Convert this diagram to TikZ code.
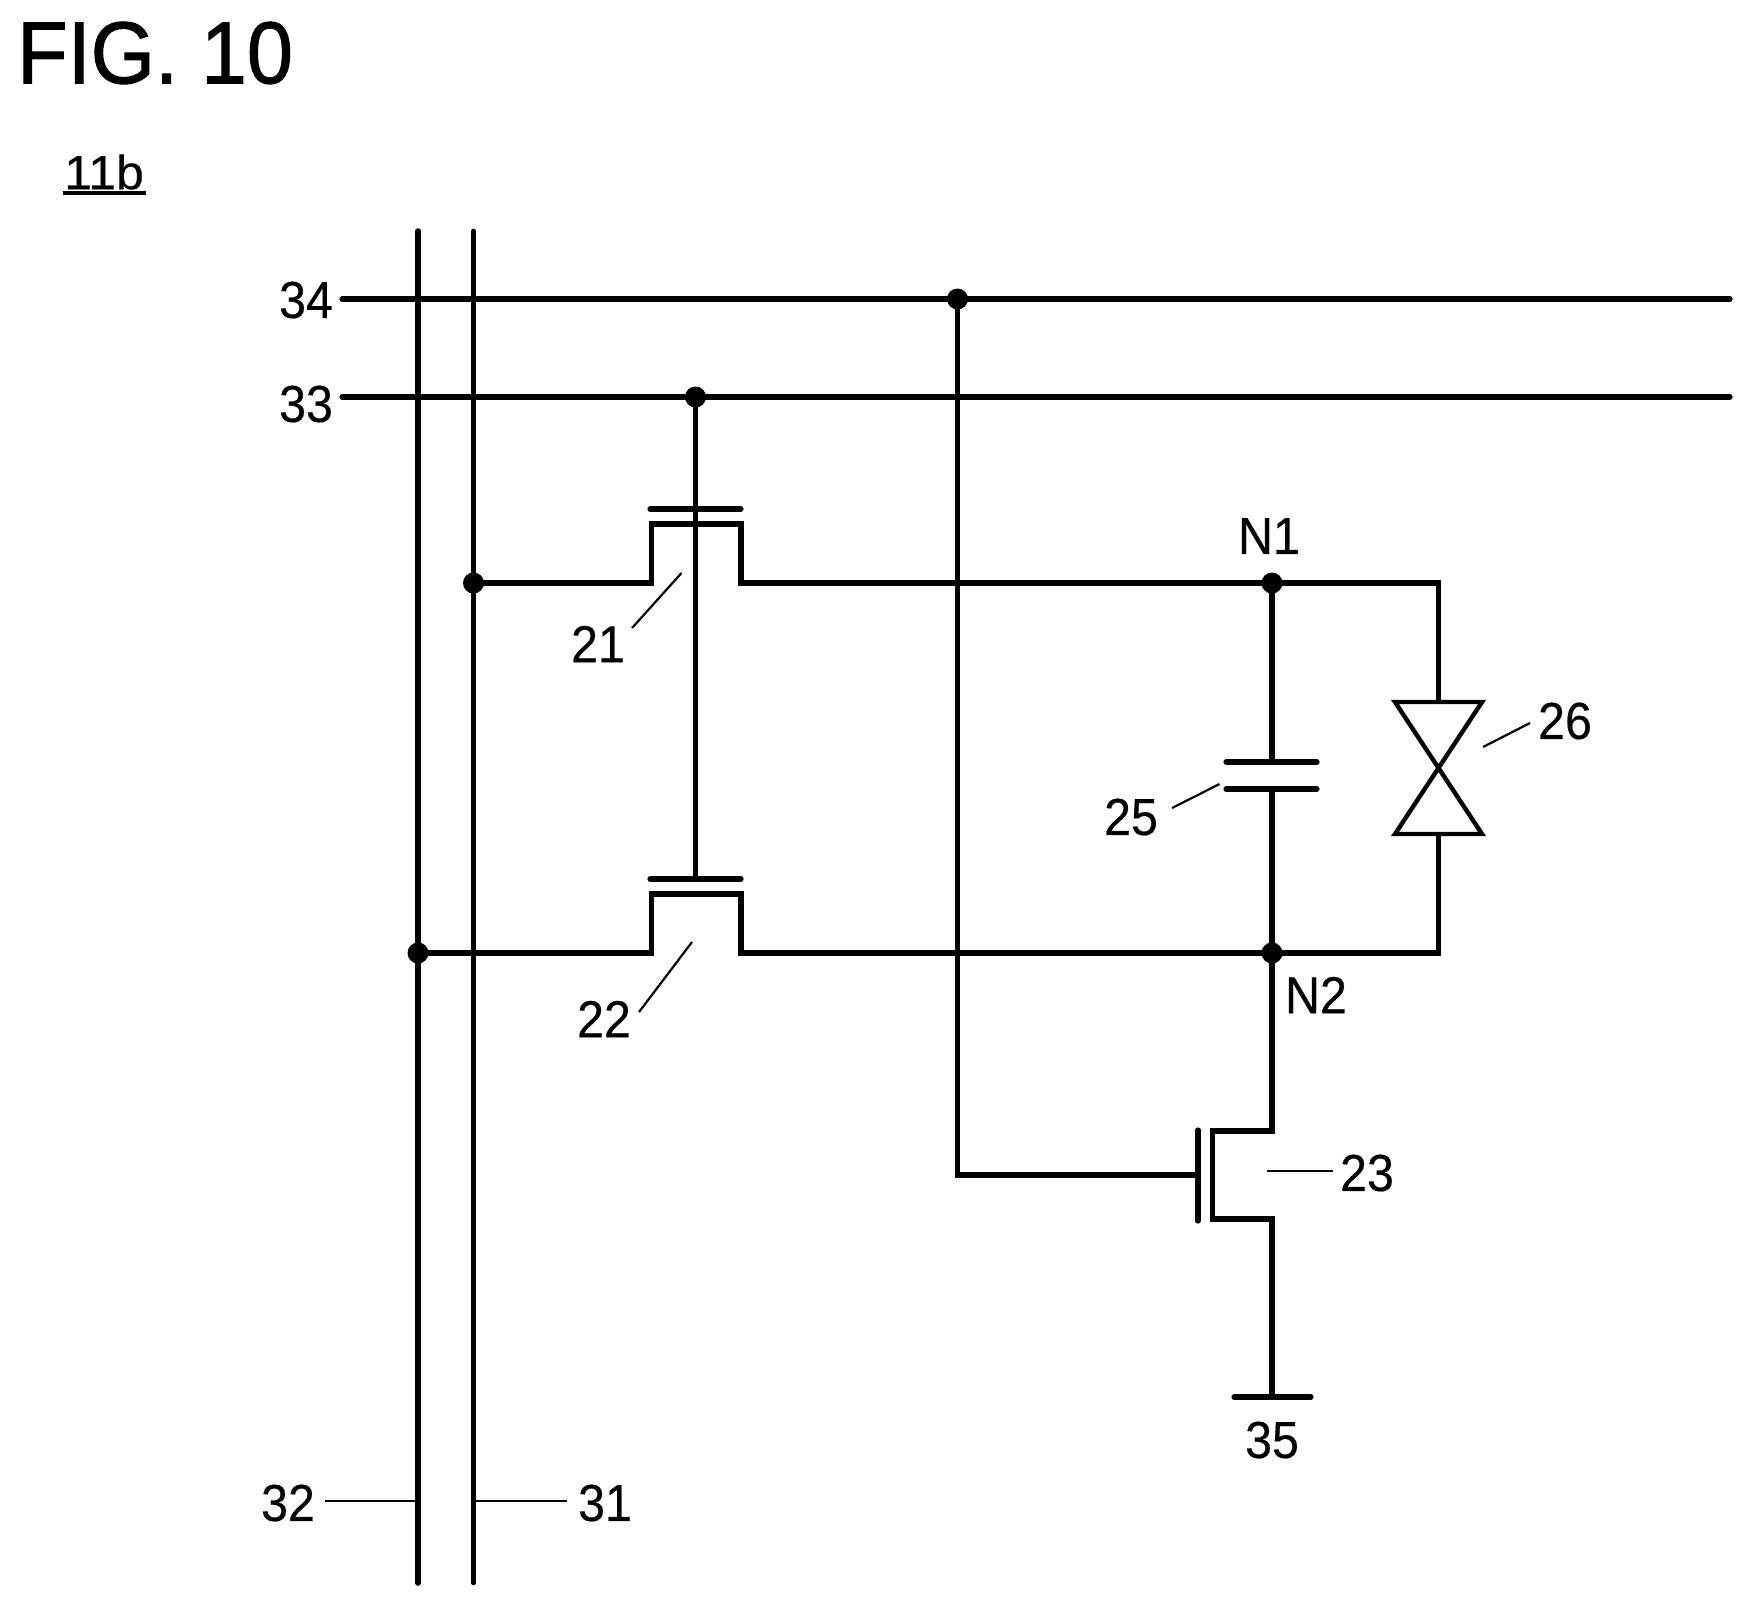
\documentclass[tikz,border=0pt]{standalone}
\usepackage{fontspec}
\setmainfont{Liberation Sans}
\newfontfamily\figfont[FakeBold=1.2]{Liberation Sans}
\newfontfamily\labfont[FakeBold=0.4]{Liberation Sans}
\tikzset{
  wire/.style={line width=5.2pt,line join=miter},
  rail/.style={line width=5.2pt,line cap=round},
  plate/.style={line width=5.2pt,line cap=round},
  lead/.style={line width=2.2pt},
  dotn/.style={circle,fill=black,inner sep=0pt,minimum size=21pt},
  lab/.style={inner sep=0pt,font=\labfont\fontsize{52}{52}\selectfont,xscale=.93,transform shape},
}
\begin{document}
\begin{tikzpicture}[x=1pt,y=-1pt]
\useasboundingbox (0,0) rectangle (1752,1604);
% free ends and corners
\coordinate (v32t) at (418,231); \coordinate (v32b) at (418,1583);
\coordinate (v31t) at (473.5,231); \coordinate (v31b) at (473.5,1583);
\coordinate (h34l) at (342,299); \coordinate (h34r) at (1730,299);
\coordinate (h33l) at (342,397); \coordinate (h33r) at (1730,397);
% junctions
\node[dotn] (j34) at (957.5,299) {};
\node[dotn] (j33) at (695.5,397) {};
\node[dotn] (j31) at (473.5,583) {};
\node[dotn] (j32) at (418,953) {};
\node[dotn] (n1) at (1272,583) {};
\node[dotn] (n2) at (1272,953) {};
% rails
\draw[rail,line width=5.6pt] (v32t) -- (v32b);
\draw[rail,line width=4.6pt] (v31t) -- (v31b);
\draw[rail] (h34l) -- (h34r);
\draw[rail] (h33l) -- (h33r);
% transistor 21
\coordinate (g21) at (695.5,509);
\coordinate (g22) at (695.5,879);
\draw[plate] (650,509) -- (741,509);
\draw[wire] (j31.center) -- (651.5,583) -- (651.5,524) -- (741,524) -- (741,583) -- (n1.center);
% transistor 22
\draw[plate] (650,879) -- (741,879);
\draw[wire] (j32.center) -- (651.5,953) -- (651.5,894) -- (741,894) -- (741,953) -- (n2.center);
% common gate
\draw[wire,line width=4.6pt] (j33.center) -- (g22);
% capacitor 25
\coordinate (c25a) at (1272,762); \coordinate (c25b) at (1272,789);
\draw[wire] (n1.center) -- (c25a);
\draw[plate] (1226,762) -- (1317,762);
\draw[plate] (1226,789) -- (1317,789);
\draw[wire] (c25b) -- (n2.center);
% element 26
\coordinate (d26t) at (1438.5,702); \coordinate (d26b) at (1438.5,834);
\draw[wire] (n1.center) -- (1438.5,583) -- (d26t);
\draw[wire,line width=4.4pt] (1395,702) -- (1482,702) -- (1395,834) -- (1482,834) -- cycle;
\draw[wire] (d26b) -- (1438.5,953) -- (n2.center);
% transistor 23
\draw[wire] (n2.center) -- (1272,1131) -- (1212.7,1131) -- (1212.7,1219) -- (1272,1219) -- (1272,1397);
\draw[plate] (1198,1130) -- (1198,1221);
\draw[wire] (j34.center) -- (957.5,1175) -- (1198,1175);
\draw[plate] (1234,1397) -- (1311,1397);
% labels
\node[inner sep=0pt,anchor=west,font=\figfont\fontsize{88}{88}\selectfont,xscale=.94,transform shape] (fig) at (17,53) {FIG. 10};
\node[inner sep=0pt,font=\labfont\fontsize{48}{48}\selectfont,xscale=1.04,transform shape] (ref) at (104,172) {11b};
\coordinate (ula) at (63,193); \coordinate (ulb) at (146,193);
\draw[line width=3.2pt] (ula) -- (ulb);
\node[lab] (l34) at (306,300) {34};
\node[lab] (l33) at (306,404) {33};
\node[lab] (l21) at (598,644) {21};
\node[lab] (l22) at (604,1019) {22};
\node[lab] (l32) at (288,1503) {32};
\node[lab] (l31) at (605,1503) {31};
\node[lab] (l25) at (1131,817) {25};
\node[lab] (l26) at (1565,721) {26};
\node[lab] (l23) at (1367,1173) {23};
\node[lab] (l35) at (1272,1440) {35};
\node[lab] (ln1) at (1269,536) {N1};
\node[lab] (ln2) at (1316,995) {N2};
% leaders
\coordinate (a21) at (681.5,573); \coordinate (b21) at (632,628);
\draw[lead] (a21) -- (b21);
\coordinate (a22) at (692,942); \coordinate (b22) at (639,1012);
\draw[lead] (a22) -- (b22);
\coordinate (a25) at (1219.6,784); \coordinate (b25) at (1172,808);
\draw[lead] (a25) -- (b25);
\coordinate (a26) at (1530,723); \coordinate (b26) at (1483,747);
\draw[lead] (a26) -- (b26);
\coordinate (a23) at (1267,1171); \coordinate (b23) at (1333,1171);
\draw[lead] (a23) -- (b23);
\coordinate (a32) at (325,1501); \coordinate (a31) at (567,1501);
\draw[lead] (a32) -- (v32b |- a32);
\draw[lead] (a31) -- (v31b |- a31);
\end{tikzpicture}
\end{document}
